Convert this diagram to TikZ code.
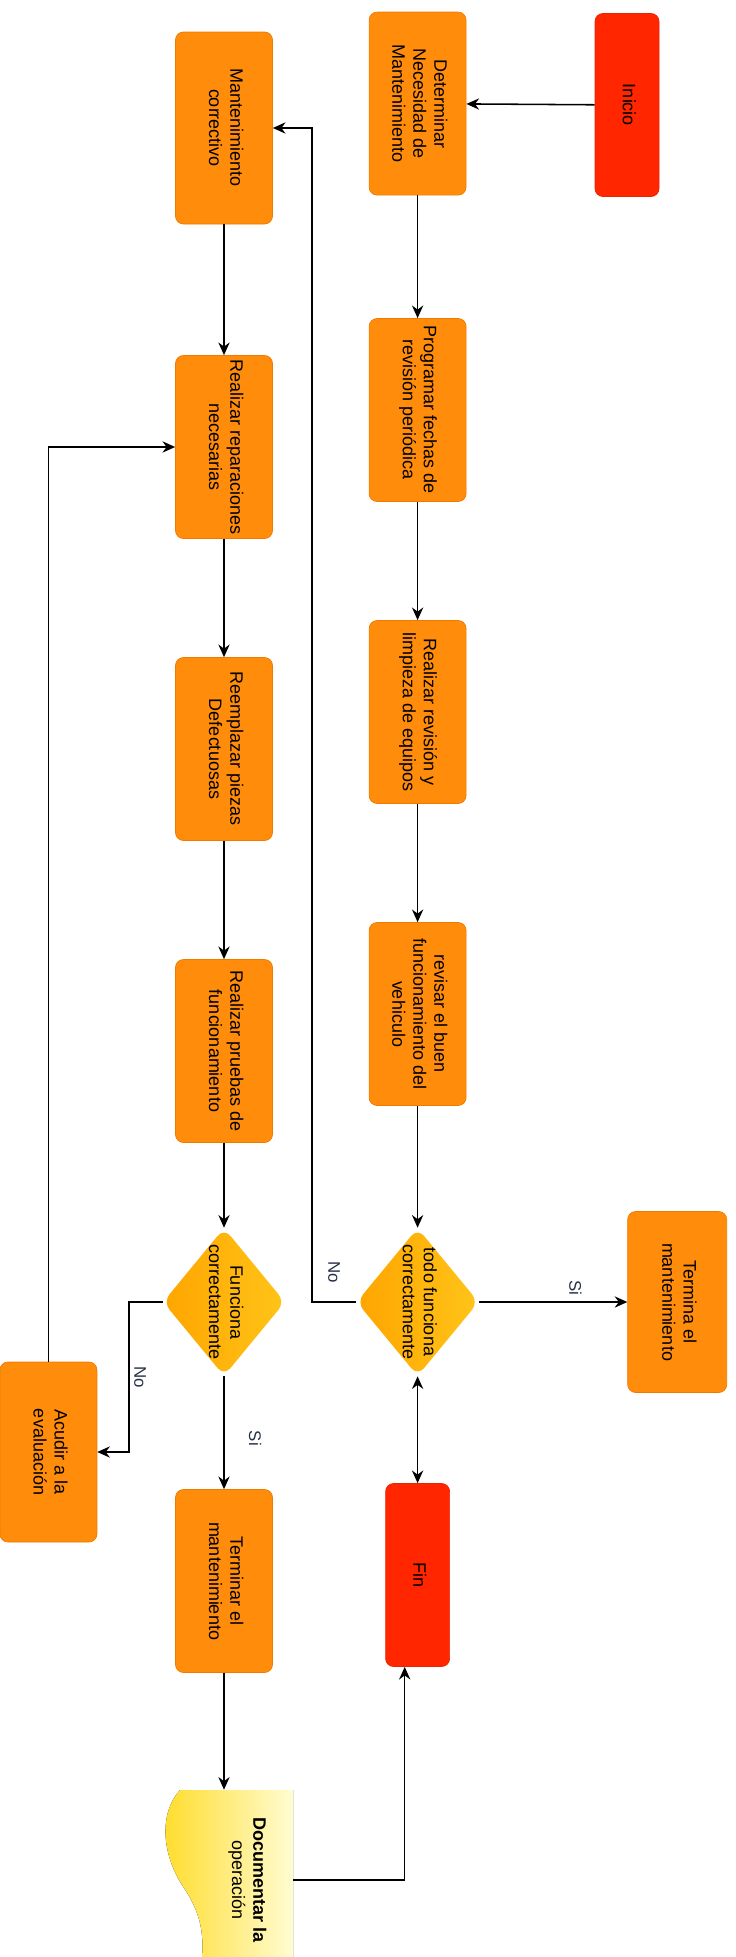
\documentclass[tikz,border=0pt]{standalone}
\usepackage{fontspec}
\setmainfont{Liberation Sans}
\usepackage{graphicx}
\usetikzlibrary{arrows.meta,positioning,shapes.geometric}
\definecolor{boxorange}{RGB}{255,140,10}
\definecolor{boxedge}{RGB}{240,122,0}
\definecolor{termred}{RGB}{255,38,0}
\definecolor{decorange}{RGB}{255,165,0}
\definecolor{decgold}{RGB}{255,196,24}
\definecolor{docyellow}{RGB}{255,220,40}
\definecolor{docpale}{RGB}{255,252,210}
\definecolor{labelink}{RGB}{40,50,70}
\newcommand{\vtext}[1]{\rotatebox{-90}{\begin{tabular}{@{}c@{}}#1\end{tabular}}}

\tikzset{
  box/.style={draw=boxedge, fill=boxorange, rounded corners=0.2cm, line width=0.5pt,
    minimum width=2.425cm, minimum height=4.575cm, inner sep=0pt,
    font=\fontsize{12.8}{15}\selectfont, text=black},
  term/.style={box, draw=termred!92!black, fill=termred, minimum width=1.6cm},
  decision/.style={diamond, draw=none, left color=decorange, right color=decgold,
    rounded corners=0.25cm, minimum width=3.05cm, minimum height=3.7cm, inner sep=0pt},
  dectext/.style={font=\fontsize{12.8}{15}\selectfont, text=black},
  flow/.style={line width=1.1pt, -{Stealth[length=9pt,width=8pt]}},
  lbl/.style={font=\fontsize{12}{14}\selectfont, text=labelink}
}

\begin{document}
\begin{tikzpicture}
    \useasboundingbox (0,0) rectangle (18.375,-48.925);

    % Preventive column
    \node[term] (inicio) at (15.675,-2.625) {\vtext{Inicio}};
    \node[box] (determinar) at (10.44,-2.59) {\vtext{Determinar\\Necesidad de\\Mantenimiento}};
    \node[box] (programar) at (10.44,-10.25) {\vtext{Programar fechas de\\revisión periódica}};
    \node[box] (limpieza) at (10.44,-17.8) {\vtext{Realizar revisión y\\limpieza de equipos}};
    \node[box] (revisar) at (10.44,-25.35) {\vtext{revisar el buen\\funcionamiento del\\vehiculo}};
    \node[decision, label={[dectext]center:{\vtext{todo funciona\\correctamente}}}] (todo) at (10.44,-32.55) {};
    \node[box, minimum width=2.475cm, minimum height=4.525cm] (termina) at (16.93,-32.55) {\vtext{Termina el\\mantenimiento}};
    \node[term] (fin) at (10.44,-39.375) {\vtext{Fin}};
    \coordinate (nobend) at (7.8,-32.55);

    % Corrective column
    \node[box, minimum height=4.8cm] (correctivo) at (5.6,-3.2) {\vtext{Mantenimiento\\correctivo}};
    \node[box] (reparaciones) at (5.6,-11.175) {\vtext{Realizar reparaciones\\necesarias}};
    \node[box] (reemplazar) at (5.6,-18.725) {\vtext{Reemplazar piezas\\Defectuosas}};
    \node[box] (pruebas) at (5.6,-26.275) {\vtext{Realizar pruebas de\\funcionamiento}};
    \node[decision, label={[dectext]center:{\vtext{Funciona\\correctamente}}}] (funciona) at (5.6,-32.55) {};
    \node[box, minimum height=4.5cm] (acudir) at (1.21,-36.3) {\vtext{Acudir a la\\evaluación}};
    \node[box] (terminar) at (5.6,-39.525) {\vtext{Terminar el\\mantenimiento}};
    \coordinate (nobendl) at (3.225,-32.55);

    % Document shape
    \fill[left color=docyellow, right color=docpale] (7.325,-44.75) -- (4.5,-44.75)
        .. controls (4.0,-45.3) and (4.0,-46.3) .. (4.6,-47.2)
        .. controls (5.0,-47.8) and (5.1,-48.3) .. (5.05,-48.925)
        -- (7.325,-48.925) -- cycle;
    \node[inner sep=0pt, minimum width=2.3cm, minimum height=4.5cm, dectext] (doc) at (6.175,-47.0)
        {\vtext{\textbf{Documentar la}\\operación}};

    % Connectors
    \draw[flow] (inicio) -- (determinar);
    \draw[flow] (determinar) -- (programar);
    \draw[flow] (programar) -- (limpieza);
    \draw[flow] (limpieza) -- (revisar);
    \draw[flow] (revisar) -- (todo);
    \draw[flow] (todo.east) -- node[lbl, pos=0.65, yshift=0.35cm] {\rotatebox{-90}{Si}} (termina.west);
    \draw[flow] (todo.west) -- node[lbl, midway, yshift=0.75cm] {\rotatebox{-90}{No}} (nobend) |- (correctivo.east);
    \draw[line width=1.1pt, {Stealth[length=9pt,width=8pt]}-{Stealth[length=9pt,width=8pt]}] (todo.south) -- (fin.north);

    \draw[flow] (correctivo) -- (reparaciones);
    \draw[flow] (reparaciones) -- (reemplazar);
    \draw[flow] (reemplazar) -- (pruebas);
    \draw[flow] (pruebas) -- (funciona);
    \draw[flow] (funciona.south) -- node[lbl, pos=0.55, xshift=0.78cm] {\rotatebox{-90}{Si}} (terminar.north);
    \draw[flow] (funciona.west) -- (nobendl) |- node[lbl, pos=0.25, xshift=0.28cm] {\rotatebox{-90}{No}} (acudir.east);
    \draw[flow] (acudir.north) |- (reparaciones.west);
    \draw[flow] (terminar.south) -- (terminar.south |- doc.north);
    \draw[flow] (doc.east) -| (fin.262);
\end{tikzpicture}
\end{document}
